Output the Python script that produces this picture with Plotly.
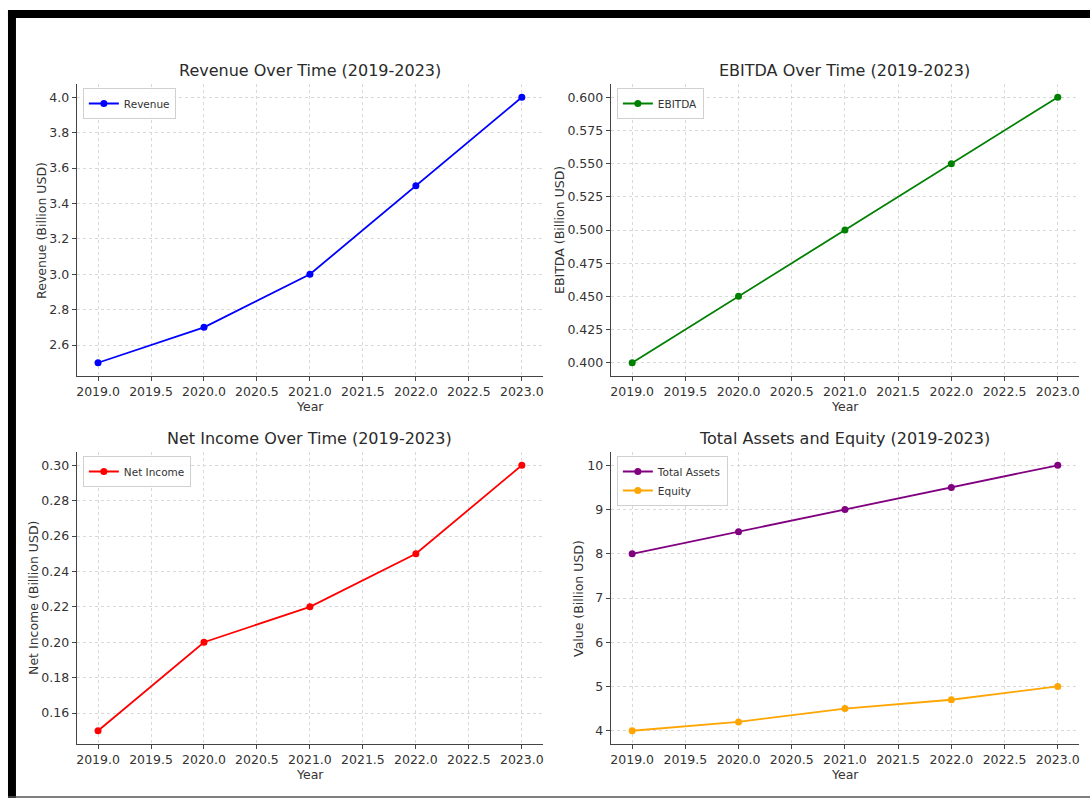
import plotly.graph_objects as go
from plotly.subplots import make_subplots

# data
years = [2019, 2020, 2021, 2022, 2023]
revenue = [2.5, 2.7, 3.0, 3.5, 4.0]
ebitda = [0.40, 0.45, 0.50, 0.55, 0.60]
net_income = [0.15, 0.20, 0.22, 0.25, 0.30]
total_assets = [8.0, 8.5, 9.0, 9.5, 10.0]
equity = [4.0, 4.2, 4.5, 4.7, 5.0]

W, H = 1091, 798
FONT = "DejaVu Sans"
TXT = "#333333"


def fx(x):
    return x / W


def fy(y):
    return 1 - y / H


def pad(vals, frac=0.05):
    lo, hi = min(vals), max(vals)
    d = (hi - lo) * frac
    return [lo - d, hi + d]


# panel boxes in pixels: left, right, top, bottom
boxes = {
    (1, 1): (76, 543, 84, 376),
    (1, 2): (611, 1080, 84, 376),
    (2, 1): (76, 543, 452, 744),
    (2, 2): (611, 1080, 452, 744),
}

panels = [
    dict(pos=(1, 1), title="Revenue Over Time (2019-2023)", ylabel="Revenue (Billion USD)",
         series=[("Revenue", revenue, "blue")], dtick=0.2, fmt=".1f", ylab_x=40, legend="legend"),
    dict(pos=(1, 2), title="EBITDA Over Time (2019-2023)", ylabel="EBITDA (Billion USD)",
         series=[("EBITDA", ebitda, "green")], dtick=0.025, fmt=".3f", ylab_x=559, legend="legend2"),
    dict(pos=(2, 1), title="Net Income Over Time (2019-2023)", ylabel="Net Income (Billion USD)",
         series=[("Net Income", net_income, "red")], dtick=0.02, fmt=".2f", ylab_x=32, legend="legend3"),
    dict(pos=(2, 2), title="Total Assets and Equity (2019-2023)", ylabel="Value (Billion USD)",
         series=[("Total Assets", total_assets, "purple"), ("Equity", equity, "orange")],
         dtick=1, fmt="d", ylab_x=578, legend="legend4"),
]

fig = make_subplots(rows=2, cols=2)

annotations = []
layout_extra = {}
for i, p in enumerate(panels):
    r, c = p["pos"]
    l, rt, t, b = boxes[(r, c)]
    allvals = []
    for name, vals, color in p["series"]:
        allvals += vals
        fig.add_trace(go.Scatter(
            x=years, y=vals, name=name, mode="lines+markers",
            line=dict(color=color, width=1.8),
            marker=dict(color=color, size=7),
            legend=p["legend"],
        ), row=r, col=c)

    axis_common = dict(
        showline=True, linecolor="#444444", linewidth=1.3,
        ticks="outside", ticklen=4, tickcolor="#444444", tickwidth=1,
        showgrid=True, gridcolor="#d9d9d9", griddash="dot", gridwidth=1,
        zeroline=False, mirror=False,
        tickfont=dict(family=FONT, size=12.5, color=TXT),
    )
    fig.update_xaxes(axis_common, row=r, col=c,
                     domain=[fx(l), fx(rt)], range=[2018.8, 2023.2],
                     dtick=0.5, tick0=2019, tickformat=".1f")
    fig.update_yaxes(axis_common, row=r, col=c,
                     domain=[fy(b), fy(t)], range=pad(allvals),
                     dtick=p["dtick"], tickformat=p["fmt"])

    cx = (l + rt) / 2
    annotations.append(dict(text=p["title"], x=fx(cx), y=fy(t - 14), xref="paper", yref="paper",
                            xanchor="center", yanchor="middle", showarrow=False,
                            font=dict(family=FONT, size=16, color="#2a2a2a")))
    annotations.append(dict(text="Year", x=fx(cx), y=fy(b + 30), xref="paper", yref="paper",
                            xanchor="center", yanchor="middle", showarrow=False,
                            font=dict(family=FONT, size=12.5, color=TXT)))
    annotations.append(dict(text=p["ylabel"], x=fx(p["ylab_x"]), y=fy((t + b) / 2),
                            xref="paper", yref="paper", textangle=-90,
                            xanchor="center", yanchor="middle", showarrow=False,
                            font=dict(family=FONT, size=12.5, color=TXT)))

    layout_extra[p["legend"]] = dict(
        x=fx(l + 6), y=fy(t + 4), xanchor="left", yanchor="top",
        bgcolor="rgba(255,255,255,0.85)", bordercolor="#d0d0d0", borderwidth=1,
        font=dict(family=FONT, size=10.5, color=TXT),
        itemwidth=30, tracegroupgap=2,
    )

# black frame around the picture
shapes = [
    dict(type="rect", xref="paper", yref="paper", x0=fx(7), x1=fx(15), y0=fy(798), y1=fy(10),
         fillcolor="black", line=dict(width=0)),
    dict(type="rect", xref="paper", yref="paper", x0=fx(7), x1=fx(1091), y0=fy(18), y1=fy(10),
         fillcolor="black", line=dict(width=0)),
    dict(type="line", xref="paper", yref="paper", x0=fx(7), x1=fx(1091), y0=fy(797), y1=fy(797),
         line=dict(color="#555555", width=1.5)),
]

fig.update_layout(
    width=W, height=H,
    margin=dict(l=0, r=0, t=0, b=0),
    paper_bgcolor="white", plot_bgcolor="white",
    annotations=annotations, shapes=shapes,
    showlegend=True,
    **layout_extra,
)

fig.write_html("out.html", config={"displayModeBar": False},
               post_script="document.body.style.margin='0';")
